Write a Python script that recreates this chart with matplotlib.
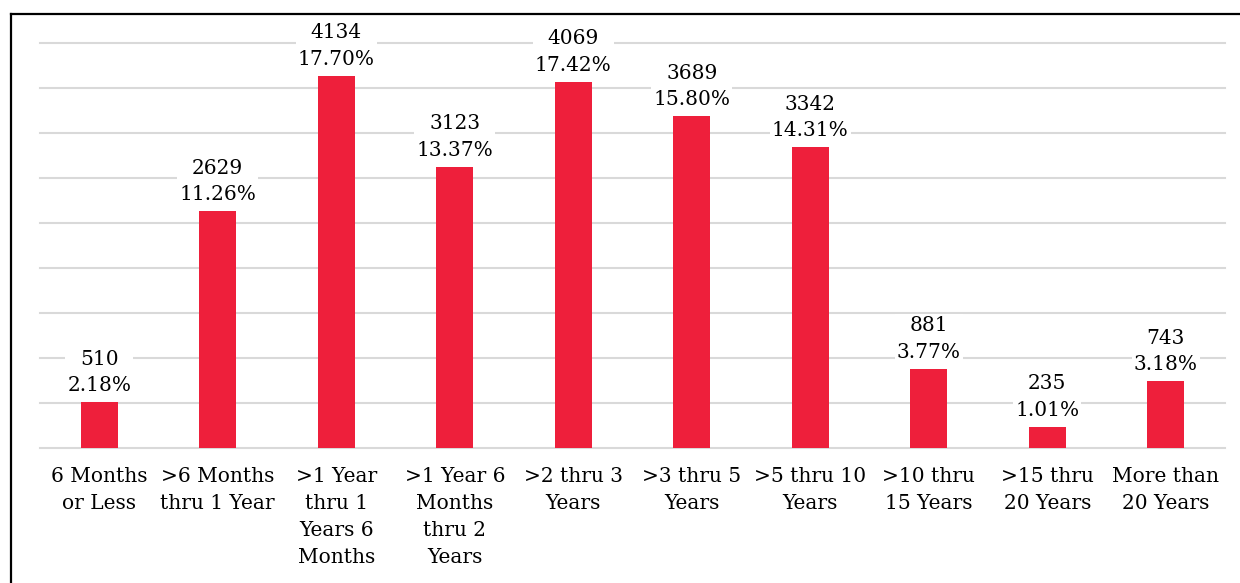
import matplotlib.pyplot as plt
from matplotlib.lines import Line2D

categories = [
    "6 Months\nor Less",
    ">6 Months\nthru 1 Year",
    ">1 Year\nthru 1\nYears 6\nMonths",
    ">1 Year 6\nMonths\nthru 2\nYears",
    ">2 thru 3\nYears",
    ">3 thru 5\nYears",
    ">5 thru 10\nYears",
    ">10 thru\n15 Years",
    ">15 thru\n20 Years",
    "More than\n20 Years",
]
counts = [510, 2629, 4134, 3123, 4069, 3689, 3342, 881, 235, 743]
shares = ["2.18%", "11.26%", "17.70%", "13.37%", "17.42%",
          "15.80%", "14.31%", "3.77%", "1.01%", "3.18%"]

plt.rcParams['font.family'] = ['DejaVu Serif']

fig = plt.figure(figsize=(12.4, 5.83), dpi=100)
ax = fig.add_axes([0.0323, 0.2316, 0.9556, 0.6947])

x = range(len(categories))
ax.bar(x, counts, width=0.31, color="#EE1F3B", zorder=2)

ax.set_ylim(0, 4500)
ax.set_xlim(-0.5, len(categories) - 0.5)
ax.set_yticks(range(0, 4501, 500))
ax.yaxis.grid(True, color="#D9D9D9", linewidth=1.5, zorder=0)
for gl in ax.get_ygridlines():
    gl.set_clip_on(False)
ax.tick_params(axis="y", left=False, labelleft=False)
ax.tick_params(axis="x", bottom=False, pad=10)
for s in ax.spines.values():
    s.set_visible(False)

ax.set_xticks(list(x))
ax.set_xticklabels(categories, fontsize=14.5, linespacing=1.55)

for i, (c, p) in enumerate(zip(counts, shares)):
    ax.annotate(f"{c}\n{p}", (i, c), xytext=(0, 5), textcoords="offset points",
                ha="center", va="bottom", fontsize=14.5, linespacing=1.5,
                bbox=dict(boxstyle="square,pad=0.1", fc="white", ec="none"),
                zorder=3)

# outer frame (left and top edges)
fig.add_artist(Line2D([11 / 1240, 11 / 1240], [0, 1 - 14 / 583],
                      transform=fig.transFigure, color="black", linewidth=1.6))
fig.add_artist(Line2D([11 / 1240, 1], [1 - 14 / 583, 1 - 14 / 583],
                      transform=fig.transFigure, color="black", linewidth=1.6))

fig.savefig("out.png", dpi=100)
